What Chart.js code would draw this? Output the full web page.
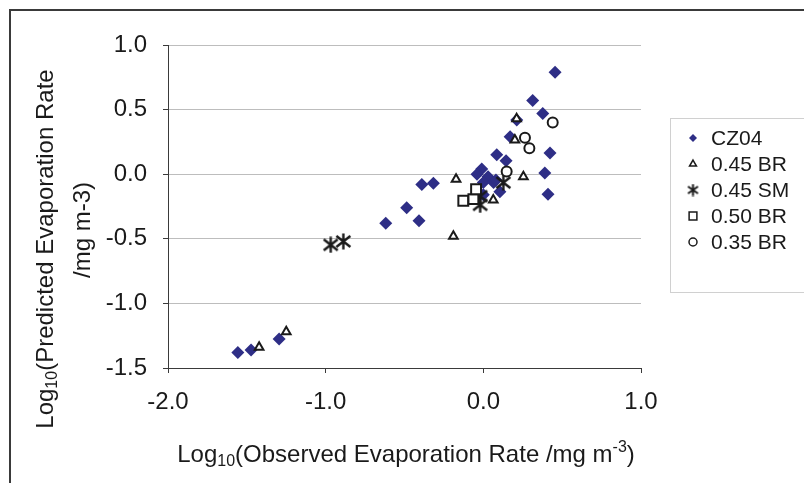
<!DOCTYPE html>
<html>
<head>
<meta charset="utf-8">
<script src="https://cdn.jsdelivr.net/npm/chart.js@4/dist/chart.umd.min.js"></script>
<style>
  html, body { margin: 0; padding: 0; background: #fff; }
  #wrap { position: relative; width: 804px; height: 483px; }
</style>
</head>
<body>
<div id="wrap"><canvas id="evapChart" width="804" height="483"></canvas></div>
<script>
// log10 observed (x) vs log10 predicted (y)
const cz04X = [0.455, 0.313, 0.377, 0.212, 0.17, 0.423, 0.085, 0.144, 0.39, 0.41, -0.01, -0.04, 0.03, 0.0, 0.065, 0.105, 0.0, 0.08, -0.39, -0.317, -0.486, -0.408, -0.619, -1.557, -1.473, -1.295];
const cz04Y = [0.79, 0.57, 0.47, 0.42, 0.29, 0.165, 0.15, 0.105, 0.01, -0.155, 0.04, 0.0, -0.02, -0.065, -0.065, -0.135, -0.16, -0.045, -0.08, -0.07, -0.26, -0.36, -0.38, -1.38, -1.36, -1.275];

const br045X = [0.211, 0.2, -0.173, 0.254, 0.063, -0.19, -1.422, -1.25];
const br045Y = [0.43, 0.265, -0.04, -0.02, -0.2, -0.48, -1.34, -1.22];

const sm045X = [-0.968, -0.888, -0.02, 0.127, -0.02];
const sm045Y = [-0.547, -0.52, -0.237, -0.065, -0.17];

const br050X = [-0.127, -0.063, -0.046];
const br050Y = [-0.205, -0.193, -0.116];

const br035X = [0.44, 0.264, 0.292, 0.148];
const br035Y = [0.40, 0.283, 0.2, 0.02];

const seriesLabels = ["CZ04", "0.45 BR", "0.45 SM", "0.50 BR", "0.35 BR"];
const xTicks = [-2, -1, 0, 1];
const yTicks = [-1.5, -1, -0.5, 0, 0.5, 1];

const FONT = "'Liberation Sans', Arial, sans-serif";
const INK = "#1a1a1a";

const toPoints = (xs, ys) => xs.map((x, i) => ({ x: x, y: ys[i] }));

// excel style "star" marker: an X with a vertical bar through it
const makeStar = (size, lw) => {
  const c = document.createElement("canvas");
  c.width = size;
  c.height = size;
  const g = c.getContext("2d");
  const m = size / 2;
  g.strokeStyle = INK;
  g.lineWidth = lw;
  g.lineCap = "butt";
  g.beginPath();
  g.moveTo(m, 0.5); g.lineTo(m, size - 0.5);
  g.moveTo(1.5, 3); g.lineTo(size - 1.5, size - 3);
  g.moveTo(size - 1.5, 3); g.lineTo(1.5, size - 3);
  g.stroke();
  return c;
};
const starMarker = makeStar(17, 2.4);
const starLegend = makeStar(13, 2);

const datasets = [
  { label: seriesLabels[0], data: toPoints(cz04X, cz04Y), pointStyle: "rectRot", pointRadius: 6.5,
    backgroundColor: "#2e2e86", borderColor: "#2e2e86", borderWidth: 0, order: 5 },
  { label: seriesLabels[1], data: toPoints(br045X, br045Y), pointStyle: "triangle", pointRadius: 5,
    backgroundColor: "#ffffff", borderColor: INK, borderWidth: 2, order: 4 },
  { label: seriesLabels[2], data: toPoints(sm045X, sm045Y), pointStyle: starMarker, pointRadius: 8,
    backgroundColor: INK, borderColor: INK, borderWidth: 0, order: 3 },
  { label: seriesLabels[3], data: toPoints(br050X, br050Y), pointStyle: "rect", pointRadius: 7,
    backgroundColor: "#ffffff", borderColor: INK, borderWidth: 2, order: 2 },
  { label: seriesLabels[4], data: toPoints(br035X, br035Y), pointStyle: "circle", pointRadius: 5,
    backgroundColor: "#ffffff", borderColor: INK, borderWidth: 2, order: 1 },
];

// legend sizes, drawn in the boxed area on the right
const legendMarks = [
  { pointStyle: "rectRot", radius: 4, fill: "#2e2e86", stroke: "#2e2e86", borderWidth: 0 },
  { pointStyle: "triangle", radius: 4, fill: "#ffffff", stroke: INK, borderWidth: 1.5 },
  { pointStyle: starLegend, radius: 6, fill: INK, stroke: INK, borderWidth: 0 },
  { pointStyle: "rect", radius: 5.5, fill: "#ffffff", stroke: INK, borderWidth: 1.5 },
  { pointStyle: "circle", radius: 4, fill: "#ffffff", stroke: INK, borderWidth: 1.5 },
];

// draws text pieces in a row, with optional sub/superscript pieces
const drawRich = (ctx, parts, cx, cy, size) => {
  const fontFor = (p) => (p.sub || p.sup ? Math.round(size * 0.66) : size) + "px " + FONT;
  let total = 0;
  parts.forEach((p) => { ctx.font = fontFor(p); total += ctx.measureText(p.t).width; });
  let x = cx - total / 2;
  ctx.textAlign = "left";
  ctx.textBaseline = "alphabetic";
  const base = cy + size * 0.36;
  parts.forEach((p) => {
    ctx.font = fontFor(p);
    let y = base;
    if (p.sub) y += size * 0.18;
    if (p.sup) y -= size * 0.42;
    ctx.fillText(p.t, x, y);
    x += ctx.measureText(p.t).width;
  });
};

const framePlugin = {
  id: "frame",
  afterDraw(chart) {
    const ctx = chart.ctx;
    ctx.save();
    // outer chart border (only left and top show in the original crop)
    ctx.strokeStyle = "#3a3a3a";
    ctx.lineWidth = 2;
    ctx.beginPath();
    ctx.moveTo(10, 483);
    ctx.lineTo(10, 10);
    ctx.lineTo(804, 10);
    ctx.stroke();

    // axis titles
    ctx.fillStyle = INK;
    drawRich(ctx, [{ t: "Log" }, { t: "10", sub: true }, { t: "(Observed Evaporation Rate /mg m" },
      { t: "-3", sup: true }, { t: ")" }], 406, 453, 24);

    ctx.save();
    ctx.translate(44, 249);
    ctx.rotate(-Math.PI / 2);
    drawRich(ctx, [{ t: "Log" }, { t: "10", sub: true }, { t: "(Predicted Evaporation Rate" }], 0, 0, 24);
    ctx.restore();
    ctx.save();
    ctx.translate(81, 230);
    ctx.rotate(-Math.PI / 2);
    drawRich(ctx, [{ t: "/mg m-3)" }], 0, 0, 24);
    ctx.restore();

    // legend box
    ctx.strokeStyle = "#d0d0d0";
    ctx.lineWidth = 1;
    ctx.strokeRect(670.5, 118.5, 150, 174);
    ctx.font = "21px " + FONT;
    ctx.textAlign = "left";
    ctx.textBaseline = "middle";
    chart.data.datasets.forEach((ds, i) => {
      const y = 138 + i * 26;
      const mk = legendMarks[i];
      ctx.fillStyle = mk.fill;
      ctx.strokeStyle = mk.stroke;
      ctx.lineWidth = mk.borderWidth;
      Chart.helpers.drawPoint(ctx, { pointStyle: mk.pointStyle, radius: mk.radius, rotation: 0, borderWidth: mk.borderWidth }, 693, y);
      ctx.fillStyle = INK;
      ctx.fillText(ds.label, 711, y + 1);
    });
    ctx.restore();
  },
};

const chartEvap = new Chart(document.getElementById("evapChart"), {
  type: "scatter",
  data: { datasets: datasets },
  options: {
    responsive: false,
    animation: false,
    events: [],
    layout: { padding: { left: 10, top: 45, right: 163, bottom: 0 } },
    plugins: { legend: { display: false }, tooltip: { enabled: false } },
    scales: {
      x: {
        type: "linear",
        min: xTicks[0],
        max: xTicks[xTicks.length - 1],
        afterBuildTicks: (scale) => { scale.ticks = xTicks.map((v) => ({ value: v })); },
        afterFit: (scale) => { scale.height = 115; },
        grid: { drawOnChartArea: false, drawTicks: true, tickLength: 5, color: "#3a3a3a" },
        border: { display: true, color: "#3a3a3a", width: 1 },
        ticks: { padding: 15, color: INK, font: { family: FONT, size: 24 }, callback: (v) => Number(v).toFixed(1) },
      },
      y: {
        type: "linear",
        min: yTicks[0],
        max: yTicks[yTicks.length - 1],
        afterBuildTicks: (scale) => { scale.ticks = yTicks.map((v) => ({ value: v })); },
        afterFit: (scale) => { scale.width = 158; },
        grid: { color: "#bdbdbd", lineWidth: 1, tickLength: 5, tickColor: "#3a3a3a" },
        border: { display: true, color: "#3a3a3a", width: 1 },
        ticks: { padding: 16, color: INK, font: { family: FONT, size: 24 }, callback: (v) => Number(v).toFixed(1) },
      },
    },
  },
  plugins: [framePlugin],
});
</script>
</body>
</html>
